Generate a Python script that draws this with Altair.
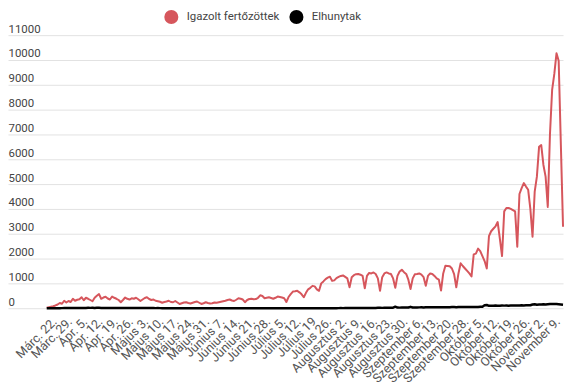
import altair as alt
import pandas as pd

labels = ["Márc. 22.", "Márc. 29.", "Ápr. 5.", "Ápr. 12.", "Ápr. 19.", "Ápr. 26.",
          "Május 3.", "Május 10.", "Május 17.", "Május 24.", "Május 31.",
          "Június 7.", "Június 14.", "Június 21.", "Június 28.",
          "Július 5.", "Július 12.", "Július 19", "Július 26.",
          "Augusztus 2.", "Augusztus 9.", "Augusztus 16.", "Augusztus 23.", "Augusztus 30.",
          "Szeptember 6.", "Szeptember 13.", "Szeptember 20.", "Szeptember 28.",
          "Október 5.", "Október 12.", "Október 19.", "Október 26.",
          "November 2.", "November 9."]

cases = [
    20, 40, 60, 80, 110, 150, 210, 180, 300, 230,
    290, 250, 380, 300, 340, 360, 440, 320, 420, 380,
    330, 280, 420, 500, 570, 380, 430, 460, 390, 350,
    470, 420, 380, 330, 240, 330, 430, 380, 350, 400,
    380, 420, 360, 290, 350, 410, 440, 370, 330, 350,
    300, 280, 260, 220, 250, 270, 300, 250, 240, 290,
    230, 170, 200, 230, 240, 210, 190, 220, 250, 270,
    220, 170, 200, 240, 210, 190, 200, 230, 220, 240,
    260, 280, 300, 330, 350, 310, 290, 340, 400, 380,
    350, 240, 330, 370, 380, 360, 370, 420, 520, 490,
    400, 420, 440, 410, 380, 420, 470, 450, 430, 400,
    250, 450, 570, 670, 680, 700, 640, 560, 440, 620,
    760, 820, 900, 880, 760, 700, 1000, 1080, 1170, 1230,
    1270, 1100, 1120, 1210, 1260, 1300, 1320, 1260, 1200, 840,
    1250, 1330, 1370, 1380, 1350, 1300, 800, 1300, 1420, 1400,
    1440, 1380, 1200, 700, 1250, 1400, 1440, 1400, 1380, 1200,
    820, 1300, 1480, 1550, 1450, 1380, 1150, 770, 1200, 1370,
    1380, 1400, 1350, 1250, 900, 1300, 1400, 1380, 1300, 1200,
    1150, 710, 1400, 1710, 1700, 1690, 1600, 1370, 840, 1400,
    1810, 1700, 1600, 1500, 1400, 1280, 2170, 2200, 2400, 2300,
    2100, 1900, 1600, 2900, 3100, 3200, 3300, 3470, 2800, 2100,
    3900, 4040, 4040, 4000, 3950, 3900, 2480, 4600, 4840, 5040,
    4900, 4770, 4000, 2880, 4700, 5300, 6500, 6570, 5770, 5300,
    4080, 7000, 8800, 9440, 10270, 9970, 6600, 3280,
]

deaths = [
    0, 0, 1, 1, 1, 2, 2, 3, 4, 5,
    5, 6, 8, 9, 10, 10, 11, 13, 12, 14,
    13, 14, 12, 15, 14, 12, 11, 13, 10, 11,
    10, 12, 9, 10, 8, 9, 10, 8, 7, 9,
    8, 6, 7, 5, 6, 6, 5, 4, 5, 4,
    3, 4, 3, 2, 3, 2, 2, 1, 2, 1,
    2, 1, 1, 2, 1, 0, 1, 1, 0, 1,
    1, 0, 1, 0, 1, 1, 0, 1, 0, 0,
    1, 0, 1, 0, 0, 1, 0, 0, 1, 0,
    0, 1, 0, 0, 1, 0, 0, 1, 0, 0,
    0, 1, 0, 1, 0, 0, 1, 0, 0, 1,
    0, 1, 0, 0, 1, 0, 1, 0, 1, 0,
    1, 0, 1, 1, 0, 2, 1, 0, 1, 2,
    1, 2, 3, 2, 3, 4, 3, 5, 4, 6,
    5, 7, 6, 8, 9, 8, 10, 12, 11, 10,
    13, 12, 14, 15, 13, 16, 18, 17, 20, 22,
    60, 25, 23, 26, 28, 30, 27, 55, 30, 32,
    30, 33, 35, 31, 34, 36, 38, 35, 40, 39,
    40, 42, 38, 41, 43, 40, 45, 44, 42, 46,
    45, 48, 47, 50, 52, 49, 51, 53, 50, 55,
    60, 120, 130, 95, 100, 98, 105, 100, 102, 106,
    104, 108, 100, 106, 110, 108, 112, 110, 115, 113,
    118, 115, 120, 150, 160, 140, 145, 150, 155, 148,
    160, 170, 165, 172, 168, 160, 150, 140,
]

series = ["Igazolt fertőzöttek", "Elhunytak"]
colors = ["#d6565c", "#000000"]

df_cases = pd.DataFrame({"i": range(len(cases)), "v": cases, "s": series[0]})
df_deaths = pd.DataFrame({"i": range(len(deaths)), "v": deaths, "s": series[1]})

tick_vals = [3.5 + 7 * k for k in range(len(labels))]
label_js = "[" + ",".join("'" + l + "'" for l in labels) + "]"
label_expr = label_js + "[round((datum.value - 3.5) / 7)]"

x_enc = alt.X(
    "i:Q",
    scale=alt.Scale(domain=[-17.78, 237], nice=False, zero=False),
    axis=alt.Axis(
        values=tick_vals, labelExpr=label_expr, labelAngle=-45,
        labelAlign="right", labelBaseline="middle", labelPadding=11,
        ticks=False, tickSize=0, domain=False, grid=False, title=None,
        labelFontSize=12.5, labelColor="#555555", labelFont="Roboto",
        labelOverlap=False, labelFlush=False, labelBound=False,
    ),
)
y_enc = alt.Y(
    "v:Q",
    scale=alt.Scale(domain=[0, 11000], nice=False),
    axis=alt.Axis(
        values=list(range(0, 11001, 1000)), format="d", title=None,
        ticks=False, tickSize=0, domain=False, grid=True,
        gridColor="#e2e2e2", gridWidth=1,
        labelAlign="left", labelBaseline="alphabetic", labelOffset=-3,
        labelPadding=0, labelFontSize=11.5, labelColor="#444444",
        labelFont="Roboto", labelFlush=False,
    ),
)
color_scale = alt.Scale(domain=series, range=colors)

legend_layer = alt.Chart(df_cases).transform_filter("false").mark_point(
    filled=True, opacity=1, size=200
).encode(
    x=x_enc, y=y_enc,
    color=alt.Color(
        "s:N", scale=color_scale, sort=series,
        legend=alt.Legend(
            title=None, orient="none", legendX=157, legendY=-26,
            direction="horizontal", symbolType="circle", symbolSize=200,
            labelFontSize=11.5, labelColor="#444444", labelFont="Roboto",
            labelOffset=8, columnPadding=9, padding=0, symbolStrokeWidth=0,
        ),
    ),
)

red = alt.Chart(df_cases).mark_line(strokeWidth=2, strokeJoin="round").encode(
    x=x_enc, y=y_enc, color=alt.Color("s:N", scale=color_scale, legend=None)
)
black = alt.Chart(df_deaths).mark_line(strokeWidth=2.5, strokeJoin="round").encode(
    x=x_enc, y=y_enc, color=alt.Color("s:N", scale=color_scale, legend=None)
)

chart = alt.layer(legend_layer, red, black).resolve_legend(
    color="independent"
).properties(
    width=559, height=275,
    autosize=alt.AutoSizeParams(type="none"),
    padding={"left": 0, "top": 26, "right": 4, "bottom": 76},
).configure_view(stroke=None)

chart.save("out.html", embed_options={"renderer": "svg", "actions": False})
